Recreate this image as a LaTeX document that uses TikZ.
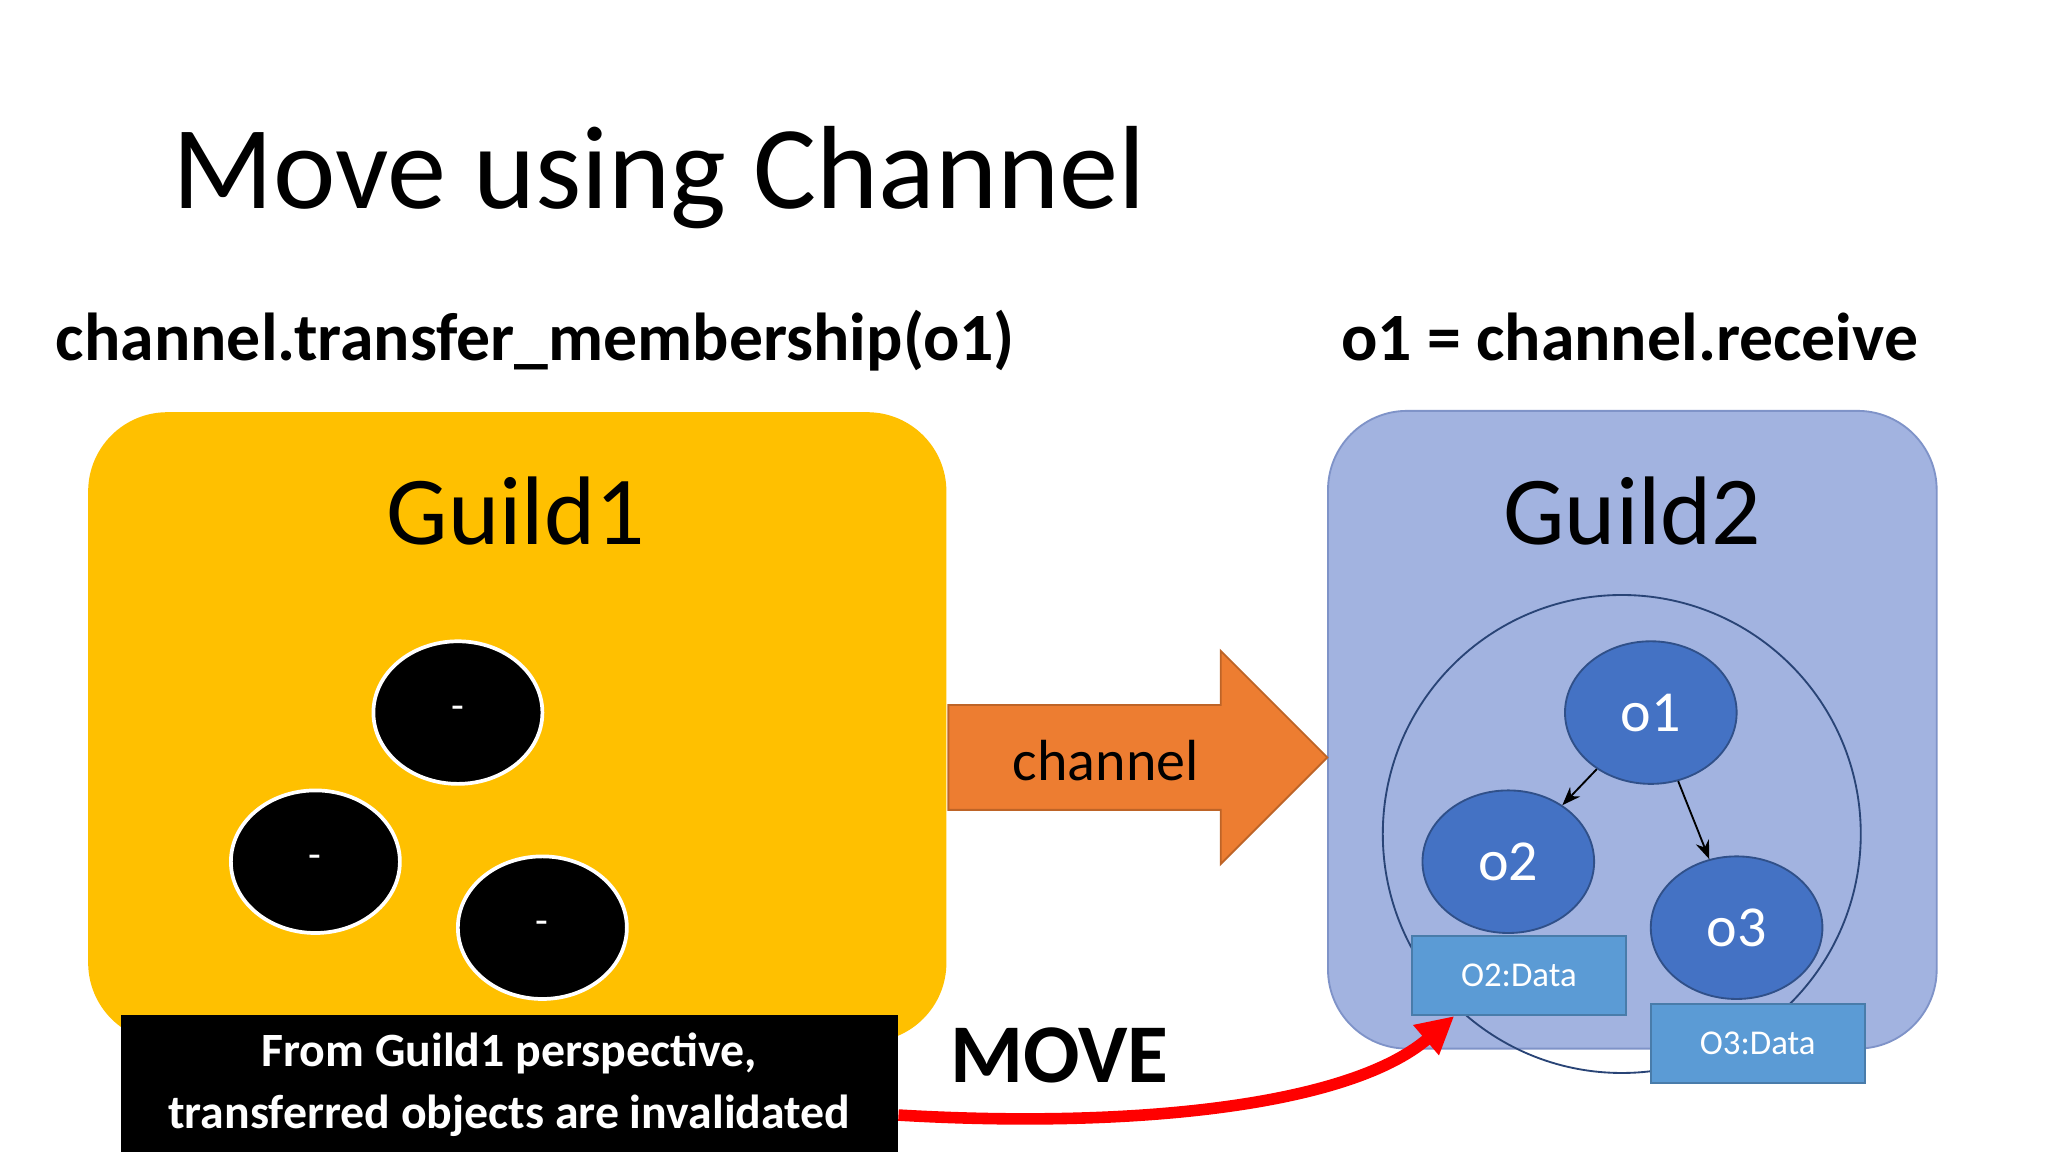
\documentclass[tikz,border=0pt]{standalone}
\usepackage{fontspec}
\setmainfont{Carlito}
\usetikzlibrary{shapes.geometric,shapes.arrows,arrows.meta}
\definecolor{gold}{HTML}{FFC000}
\definecolor{lav}{HTML}{A2B3E0}
\definecolor{lavline}{HTML}{7F93C8}
\definecolor{obj}{HTML}{4472C4}
\definecolor{data}{HTML}{5B9BD5}
\definecolor{orng}{HTML}{ED7D31}
\tikzset{
  guild/.style={rounded corners=0.6cm, minimum width=6.5cm, minimum height=4.77cm},
  blackobj/.style={ellipse, fill=black, draw=white, thick, inner sep=0pt, minimum width=1.28cm, minimum height=1.08cm, text=white, font=\fontsize{9}{10}\selectfont},
  blueobj/.style={ellipse, fill=obj, draw=obj!70!black, inner sep=0pt, minimum width=1.3cm, minimum height=1.08cm, text=white, font=\fontsize{12.5}{14}\selectfont},
  datanode/.style={rectangle, fill=data, draw=data!80!black, minimum width=1.62cm, minimum height=0.6cm, text=white, font=\fontsize{7.5}{9}\selectfont},
  code/.style={font=\bfseries\fontsize{14.6}{18}\selectfont},
  link/.style={-{Stealth[length=4pt]}, thin}
}
\begin{document}
\begin{tikzpicture}[x=0.01cm,y=-0.01cm]
        \useasboundingbox (0,0) rectangle (1552,873);
        % Title and calls
        \node (title) [anchor=base west, font=\fontsize{25.5}{30}\selectfont] at (118,158) {Move using Channel};
        \node (send) [code, anchor=base west] at (30,273) {channel.transfer\_membership(o1)};
        \node (recv) [code, anchor=base east] at (1466,273) {o1 = channel.receive};
        % Guilds
        \node (guild1) [guild, fill=gold] at (392,551) {};
        \node (guild2) [guild, fill=lav, draw=lavline, minimum width=4.61cm, minimum height=4.83cm] at (1237,553) {};
        \node (g1label) [font=\fontsize{21}{24}\selectfont] at (391,387) {Guild1};
        \node (g2label) [font=\fontsize{21}{24}\selectfont] at (1237,387) {Guild2};
        \node (ring) [circle, draw=obj!60!black, minimum size=3.62cm] at (1229,632) {};
        % Objects
        \node (a) [blackobj] at (347,540) {-};
        \node (b) [blackobj] at (239,653) {-};
        \node (c) [blackobj] at (411,703) {-};
        \node (o1) [blueobj] at (1251,540) {o1};
        \node (o2) [blueobj] at (1143,653) {o2};
        \node (o3) [blueobj] at (1316,703) {o3};
        \node (d2) [datanode] at (1151,739) {O2:Data};
        \node (d3) [datanode] at (1332,791) {O3:Data};
        % Channel
        \node (chan) [single arrow, fill=orng, draw=orng!80!black, minimum height=2.87cm, minimum width=1.6cm, single arrow head extend=0.41cm, inner xsep=0pt, inner ysep=0.39cm, anchor=tail] at (718,574) {};
        \node (chanlabel) [font=\fontsize{12.5}{14}\selectfont] at (838,576) {channel};
        % Note and move
        \node (note) [fill=black, text=white, align=center, minimum width=5.88cm, minimum height=1.05cm, font=\bfseries\fontsize{10.3}{13.5}\selectfont] at (386,822) {From Guild1 perspective,\\transferred objects are invalidated};
        \node (move) [font=\bfseries\fontsize{18}{20}\selectfont] at (803,800) {MOVE};
        \coordinate (hit) at (1102,770);
        % Arrows
        \draw [link] (o1) -- (o2);
        \draw [link] (o1) -- (o3);
        \draw [red, line width=2.5pt, -{Triangle[length=8pt,width=8pt]}] (note.east |- 0,845) .. controls (850,855) and (1020,840) .. (hit);
\end{tikzpicture}
\end{document}
